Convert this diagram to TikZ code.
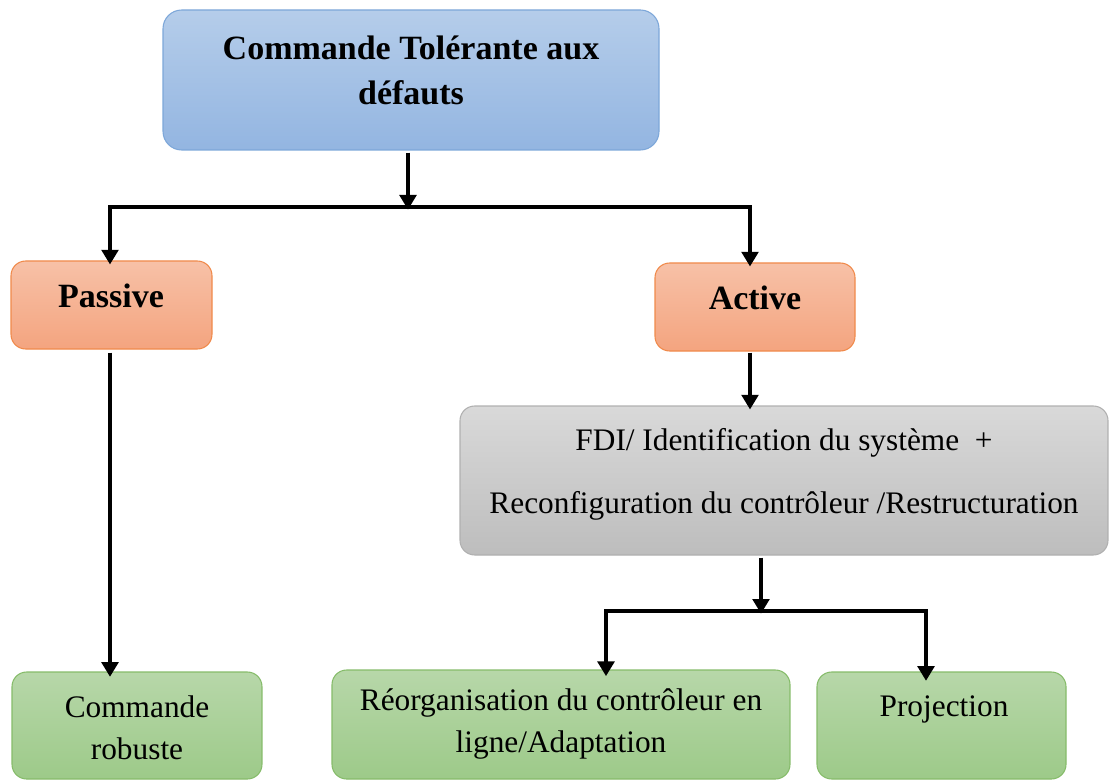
\documentclass[tikz,border=0pt]{standalone}
\usepackage{fontspec}
\setmainfont{Liberation Serif}
\usetikzlibrary{arrows.meta}

\definecolor{blueTop}{HTML}{B5CDEA}
\definecolor{blueBot}{HTML}{93B5E1}
\definecolor{blueLine}{HTML}{7DA7D9}
\definecolor{orTop}{HTML}{F7C1A7}
\definecolor{orBot}{HTML}{F4A47F}
\definecolor{orLine}{HTML}{F08A4B}
\definecolor{grTop}{HTML}{D9D9D9}
\definecolor{grBot}{HTML}{BDBDBD}
\definecolor{grLine}{HTML}{B0B0B0}
\definecolor{gnTop}{HTML}{B7D7A9}
\definecolor{gnBot}{HTML}{9DCA89}
\definecolor{gnLine}{HTML}{86BC6A}

\tikzset{
  box/.style={rounded corners=11pt, inner sep=0pt, line width=0.8pt},
  bluebox/.style={box, rounded corners=14pt, draw=blueLine, top color=blueTop, bottom color=blueBot},
  orangebox/.style={box, draw=orLine, top color=orTop, bottom color=orBot},
  greybox/.style={box, draw=grLine, top color=grTop, bottom color=grBot},
  greenbox/.style={box, draw=gnLine, top color=gnTop, bottom color=gnBot},
  txt/.style={align=center, inner sep=0pt},
  boldtxt/.style={txt, font=\fontsize{25.5}{33.75}\selectfont\bfseries},
  plaintxt/.style={txt, font=\fontsize{23.5}{31.5}\selectfont},
  link/.style={line width=2.6pt},
  arr/.style={link, -{Triangle[length=11pt,width=12.5pt]}}
}

\begin{document}
\begin{tikzpicture}[x=0.75pt,y=-0.75pt]
\useasboundingbox (0,0) rectangle (1109,780);
\clip (0,0) rectangle (1109,780);

% boxes
\node[bluebox, minimum width=372pt, minimum height=105pt] (top) at (411,80) {};
\node[orangebox, minimum width=150.75pt, minimum height=66pt] (pas) at (111.5,305) {};
\node[orangebox, minimum width=150pt, minimum height=66pt] (act) at (755,307) {};
\node[greybox, minimum width=486pt, minimum height=111.75pt] (fdi) at (784,480.5) {};
\node[greenbox, minimum width=187.5pt, minimum height=80.25pt] (rob) at (137,725.5) {};
\node[greenbox, minimum width=343.5pt, minimum height=81.75pt] (reo) at (561,724.5) {};
\node[greenbox, minimum width=186.75pt, minimum height=80.25pt] (pro) at (941.5,725.5) {};

% texts
\node[boldtxt] (topT) at (411,70) {Commande Tolérante aux\\défauts};
\node[boldtxt] (pasT) at (111,296) {Passive};
\node[boldtxt] (actT) at (755,298) {Active};
\node[plaintxt, font=\fontsize{23.5}{47}\selectfont] (fdiT) at (784,474.5)
  {FDI/ Identification du système~~+\\Reconfiguration du contrôleur /Restructuration};
\node[plaintxt] (robT) at (137,728) {Commande\\robuste};
\node[plaintxt] (reoT) at (561,724) {Réorganisation du contrôleur en\\ligne/Adaptation};
\node[plaintxt] (proT) at (944,709) {Projection};

% branch points
\coordinate (j1) at (408,207);
\coordinate (jl) at (110,207);
\coordinate (jr) at (750,207);
\coordinate (j2) at (761,611);
\coordinate (kl) at (606,611);
\coordinate (kr) at (926,611);

% connectors
\draw[arr] (top.south -| j1) ++(0,2) -- ([yshift=-2]j1);
\draw[link] ([xshift=-1.5]jl) -- ([xshift=1.5]jr);
\draw[arr] ([yshift=-1.5]jl) -- ([yshift=-3]pas.north -| jl);
\draw[arr] ([yshift=-1.5]jr) -- ([yshift=-3]act.north -| jr);
\draw[arr] (pas.south -| jl) ++(0,3) -- ([yshift=-4]rob.north -| jl);
\draw[arr] (act.south -| jr) ++(0,1) -- ([yshift=-3]fdi.north -| jr);
\draw[arr] (fdi.south -| j2) ++(0,2) -- ([yshift=-2]j2);
\draw[link] ([xshift=-1.5]kl) -- ([xshift=1.5]kr);
\draw[arr] ([yshift=-1.5]kl) -- ([yshift=-5]reo.north -| kl);
\draw[arr] ([yshift=-1.5]kr) -- ([yshift=-7]pro.north -| kr);
\end{tikzpicture}
\end{document}
